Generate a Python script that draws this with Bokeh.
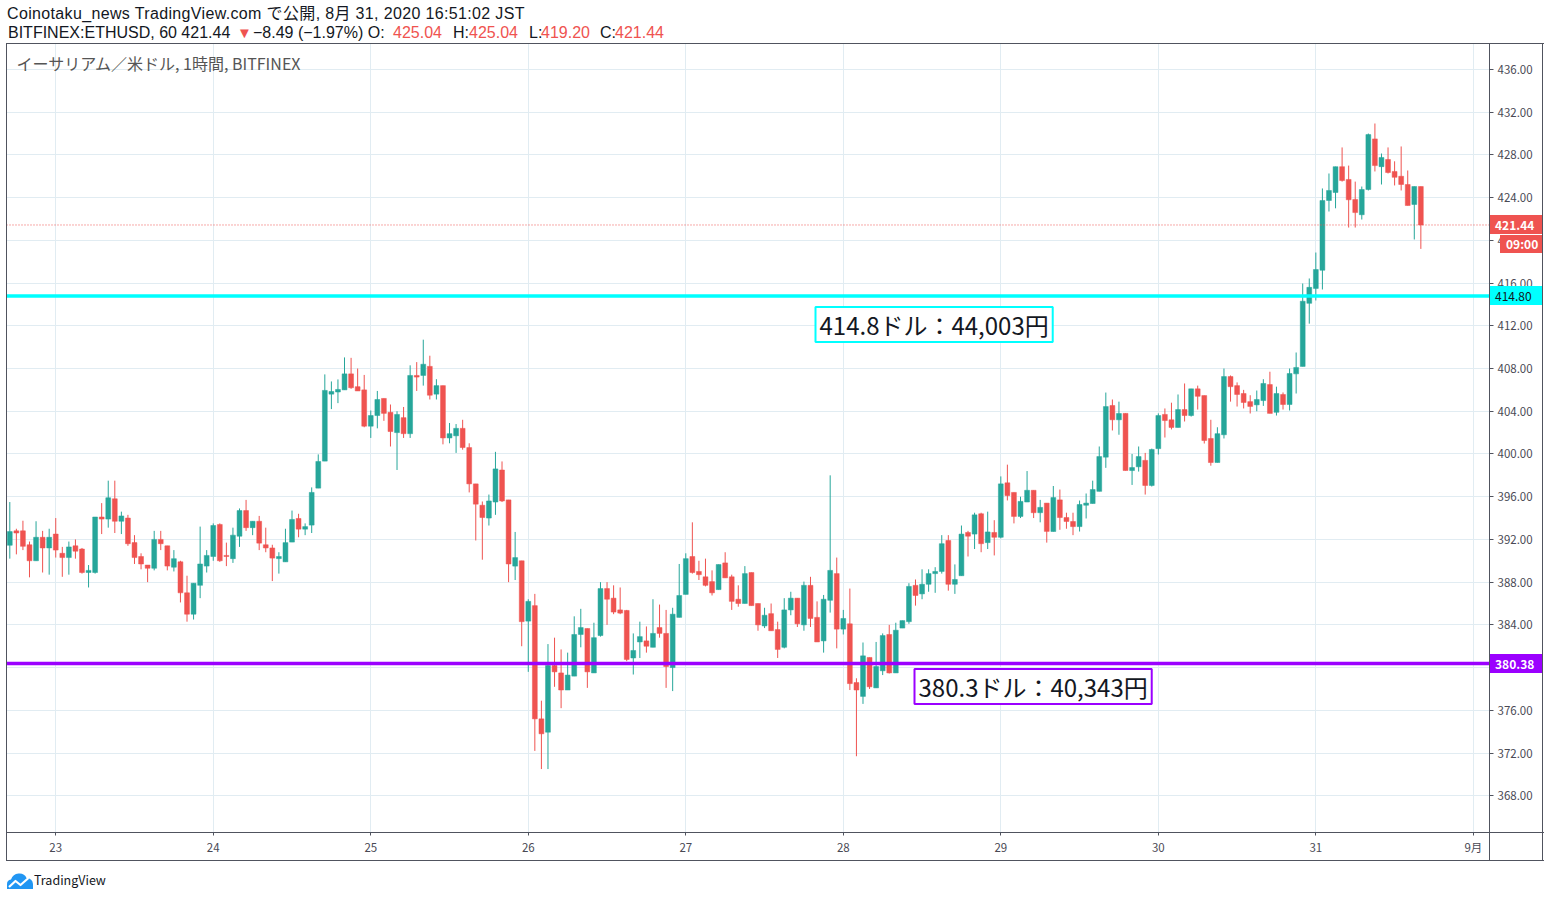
import pandas as pd
from bokeh.plotting import figure
from bokeh.layouts import column
from bokeh.models import (Range1d, FixedTicker, PrintfTickFormatter, Span, Label,
                          ColumnDataSource, Div, InlineStyleSheet)
from bokeh.embed import file_html
from bokeh.resources import INLINE

# ---------------- data ----------------
start_time = "2020-08-22 17:00"
opens = [391.45, 392.8, 392.8, 391.5, 390.0, 392.2, 391.2, 392.5, 390.7, 390.3,
         391.4, 391.1, 388.9, 388.9, 394.1, 393.9, 395.8, 393.7, 394.0, 391.7,
         390.4, 389.6, 389.3, 392.0, 391.4, 389.4, 389.9, 387.0, 385.0, 387.7,
         389.5, 390.4, 393.4, 390.5, 390.2, 392.3, 394.7, 393.1, 393.7, 391.5,
         391.2, 390.2, 389.9, 391.75, 393.96, 392.96, 393.34, 396.8, 399.33, 405.6,
         405.8, 406.0, 407.5, 406.3, 406.0, 402.6, 403.6, 405.2, 403.9, 402.0,
         403.4, 401.9, 407.35, 407.35, 408.2, 405.6, 406.4, 401.5, 401.7, 402.4,
         400.6, 397.2, 395.2, 394.0, 395.5, 398.5, 395.7, 389.5, 390.0, 384.35,
         385.8, 375.2, 373.95, 380.2, 379.5, 377.9, 379.2, 383.1, 383.66, 379.5,
         383.0, 387.4, 386.5, 385.4, 385.35, 380.9, 382.4, 382.5, 381.9, 383.75,
         383.2, 380.0, 384.7, 386.85, 390.4, 389.0, 388.5, 388.05, 387.3, 389.8,
         388.5, 386.4, 386.0, 388.9, 386.0, 383.9, 385.05, 383.56, 381.9, 385.4,
         386.5, 384.0, 387.7, 384.7, 382.5, 386.3, 388.8, 383.6, 384.1, 378.6,
         377.3, 380.95, 378.1, 379.7, 383.1, 379.5, 383.7, 384.3, 387.7, 386.9,
         387.8, 388.8, 389.0, 391.9, 387.8, 388.6, 392.65, 392.5, 394.4, 391.7,
         392.65, 392.2, 397.3, 396.4, 394.15, 395.5, 396.6, 394.5, 395.4, 392.74,
         395.7, 394.05, 393.68, 393.2, 395.2, 395.36, 396.5, 399.7, 404.54, 403.2,
         403.8, 398.45, 398.8, 399.4, 397.05, 400.5, 403.7, 403.2, 402.48, 404.16,
         403.6, 406.1, 405.47, 401.45, 399.2, 401.8, 407.25, 406.4, 405.66, 404.9,
         404.6, 405.0, 406.5, 403.9, 405.57, 404.63, 407.5, 408.2, 414.1, 415.5,
         417.2, 423.73, 424.48, 426.9, 425.7, 423.83, 422.4, 424.76, 429.5, 426.9,
         427.57, 426.45, 426.0, 425.23, 423.36, 425.04]
highs = [395.5, 393.0, 393.75, 391.8, 393.7, 392.8, 393.0, 394.0, 391.3, 391.8,
         392.0, 391.2, 389.6, 394.1, 395.4, 397.5, 397.5, 394.6, 394.3, 392.4,
         390.7, 389.6, 392.8, 392.8, 391.4, 391.0, 390.0, 388.6, 387.9, 393.2,
         391.0, 393.5, 393.5, 391.7, 393.1, 394.9, 395.7, 393.7, 394.2, 393.1,
         391.5, 390.8, 393.0, 394.7, 394.4, 393.5, 396.87, 399.96, 407.45, 406.79,
         406.98, 409.04, 409.0, 408.0, 407.4, 404.07, 405.9, 405.2, 404.63, 404.0,
         404.4, 408.3, 408.6, 410.7, 409.2, 407.0, 406.4, 402.9, 402.8, 403.2,
         401.0, 397.2, 395.55, 396.2, 400.2, 399.3, 395.7, 392.7, 390.0, 386.4,
         386.9, 376.9, 382.2, 382.8, 381.7, 381.4, 384.8, 385.5, 383.66, 384.2,
         388.0, 388.0, 387.7, 387.5, 385.4, 383.2, 384.3, 383.85, 386.4, 385.9,
         385.4, 385.6, 389.7, 390.7, 393.6, 390.0, 390.2, 389.1, 389.65, 390.8,
         388.7, 387.7, 389.5, 388.9, 386.0, 385.6, 386.0, 384.3, 386.5, 387.1,
         386.5, 388.05, 388.5, 386.2, 386.8, 398.0, 390.3, 385.4, 387.4, 379.0,
         382.35, 380.95, 382.4, 383.2, 384.0, 384.2, 384.4, 387.9, 388.25, 389.2,
         389.2, 389.4, 392.4, 392.4, 389.66, 393.3, 392.8, 394.5, 394.5, 394.6,
         393.8, 397.9, 399.0, 396.4, 396.0, 398.4, 396.6, 395.7, 395.4, 397.0,
         396.67, 394.5, 394.5, 395.64, 396.3, 397.5, 400.7, 405.75, 405.1, 404.9,
         403.8, 400.0, 400.7, 400.1, 400.5, 403.8, 404.26, 404.8, 405.57, 406.6,
         406.1, 406.4, 405.47, 403.2, 402.5, 408.0, 407.35, 406.7, 406.0, 405.5,
         405.94, 407.0, 407.7, 406.3, 405.76, 408.0, 409.5, 415.96, 416.43, 418.86,
         424.86, 426.26, 426.9, 428.7, 427.0, 425.5, 425.04, 430.0, 430.94, 428.13,
         428.7, 427.4, 428.79, 426.54, 425.04, 425.04]
lows = [390.2, 390.6, 391.0, 388.45, 390.0, 388.9, 388.7, 390.3, 388.5, 388.7,
        390.2, 388.8, 387.5, 388.8, 392.5, 393.1, 392.6, 392.5, 391.4, 389.7,
        389.2, 388.0, 389.1, 391.0, 389.1, 389.0, 386.1, 384.3, 384.5, 386.5,
        388.9, 390.0, 389.9, 389.5, 389.8, 391.3, 392.8, 392.4, 391.0, 390.8,
        388.1, 388.8, 389.9, 391.75, 392.2, 392.4, 392.6, 396.8, 399.33, 404.2,
        404.76, 406.0, 406.1, 405.9, 402.5, 401.5, 402.4, 403.1, 400.7, 398.5,
        401.5, 401.5, 405.9, 406.4, 405.1, 405.1, 400.9, 401.0, 400.1, 400.4,
        396.4, 391.9, 390.1, 393.3, 394.3, 395.5, 388.0, 388.2, 382.0, 379.6,
        372.2, 370.5, 370.5, 378.2, 376.2, 377.9, 379.2, 381.9, 378.1, 379.5,
        382.9, 384.0, 385.0, 385.0, 380.6, 379.35, 380.9, 381.4, 381.9, 382.8,
        378.1, 377.8, 384.7, 386.85, 388.8, 388.2, 387.6, 386.75, 387.3, 388.4,
        385.4, 385.7, 386.0, 385.8, 383.45, 383.7, 383.45, 380.9, 381.8, 384.9,
        383.8, 383.45, 383.8, 382.4, 381.4, 385.15, 381.8, 383.1, 377.9, 371.7,
        376.6, 378.0, 378.1, 379.3, 379.45, 379.5, 383.7, 384.1, 385.8, 386.4,
        387.1, 387.0, 388.8, 387.2, 386.9, 388.6, 390.4, 391.1, 390.8, 391.1,
        390.5, 392.1, 395.65, 393.5, 394.0, 395.5, 394.0, 393.6, 391.7, 392.74,
        392.9, 393.0, 392.4, 392.74, 393.96, 395.36, 396.5, 398.7, 402.2, 401.8,
        398.45, 397.1, 398.35, 396.2, 396.95, 399.95, 401.54, 402.3, 402.48, 403.04,
        403.5, 404.16, 400.98, 398.9, 399.2, 401.45, 404.9, 404.44, 404.26, 403.79,
        404.0, 404.5, 403.8, 403.6, 404.16, 404.07, 405.66, 408.2, 412.2, 414.37,
        415.4, 422.7, 423.0, 425.5, 421.2, 421.2, 421.95, 424.67, 426.45, 425.23,
        426.26, 425.14, 424.67, 423.26, 420.08, 419.2]
closes = [392.73, 392.6, 391.35, 390.0, 392.2, 391.2, 392.2, 391.0, 390.3, 391.3,
          390.9, 388.9, 389.1, 394.1, 393.9, 395.9, 393.7, 394.2, 391.6, 390.3,
          389.7, 389.3, 392.0, 391.6, 389.5, 390.2, 387.0, 385.0, 387.9, 389.7,
          390.5, 393.3, 390.0, 390.4, 392.4, 394.7, 393.1, 393.7, 391.65, 391.2,
          390.25, 390.4, 391.7, 393.87, 392.96, 393.2, 396.4, 399.3, 405.95, 405.85,
          406.04, 407.5, 406.2, 405.9, 402.6, 403.6, 405.1, 403.8, 402.1, 403.7,
          401.9, 407.35, 407.2, 408.4, 405.5, 406.4, 401.5, 401.9, 402.4, 400.6,
          397.2, 395.3, 394.05, 395.6, 398.6, 395.6, 389.7, 390.3, 384.3, 386.2,
          375.2, 373.8, 380.2, 379.6, 377.9, 379.3, 383.1, 383.75, 379.6, 382.8,
          387.4, 386.4, 385.2, 385.1, 380.76, 381.6, 382.9, 382.0, 383.2, 383.2,
          380.1, 385.0, 386.75, 390.2, 388.9, 388.7, 387.7, 387.0, 389.65, 388.4,
          386.2, 386.0, 388.8, 385.8, 384.0, 384.9, 383.45, 381.7, 385.4, 386.5,
          384.1, 387.7, 384.6, 382.4, 386.4, 389.1, 383.6, 384.6, 378.5, 377.9,
          381.1, 378.2, 380.1, 383.0, 379.5, 383.5, 384.4, 387.6, 386.75, 387.8,
          388.8, 389.0, 391.6, 387.8, 388.25, 392.5, 392.3, 394.3, 391.6, 392.7,
          392.2, 397.2, 396.1, 394.15, 395.56, 396.6, 394.5, 395.0, 392.75, 395.92,
          394.05, 393.68, 393.2, 395.27, 395.4, 396.67, 399.76, 404.44, 403.2, 403.79,
          398.45, 398.73, 399.76, 397.05, 400.42, 403.6, 403.13, 402.48, 404.16, 403.6,
          406.1, 405.4, 401.26, 399.2, 401.9, 407.25, 406.3, 405.57, 404.82, 404.45,
          405.1, 406.6, 403.8, 405.66, 404.63, 407.53, 408.1, 414.3, 415.6, 417.27,
          423.73, 424.67, 426.9, 425.6, 423.8, 422.6, 424.76, 429.9, 427.0, 427.76,
          426.35, 425.9, 425.23, 423.26, 425.04, 421.44]

day_labels = ["23", "24", "25", "26", "27", "28", "29", "30", "31", "9月"]
price_ticks = [368, 372, 376, 380, 384, 388, 392, 396, 400, 404, 408, 412, 416, 420, 424, 428, 432, 436]
level_upper = 414.80
level_lower = 380.38
last_price = 421.44
countdown = "09:00"
note_upper = "414.8ドル：44,003円"
note_lower = "380.3ドル：40,343円"
header_1 = "Coinotaku_news TradingView.com で公開, 8月 31, 2020 16:51:02 JST"
symbol = "BITFINEX:ETHUSD, 60"
change = "−8.49 (−1.97%)"
chart_title = "イーサリアム／米ドル, 1時間, BITFINEX"

# ---------------- geometry / style ----------------
JP = "Noto Sans CJK JP"
HEAD_FONT = "'Liberation Sans', 'Noto Sans CJK JP'"
UP, DOWN = "#26a69a", "#ef5350"
CYAN, PURPLE = "#00ffff", "#9b00ff"
FRAME = "#50535e"
TXT = "#131722"
W = 1544
HEAD_H = 43
FIG_H = 818
FX0, FX1, FY0, FY1 = 6.0, 1489.0, 43.0, 832.0   # page pixels of the plot frame
X0, X1 = -0.503, 225.46
Y0, Y1 = 364.56, 438.43


def px(xp):
    return X0 + (xp - FX0) * (X1 - X0) / (FX1 - FX0)


def py(yp):
    return Y1 - (yp - FY0) * (Y1 - Y0) / (FY1 - FY0)


def page_y(price):
    return FY0 + (Y1 - price) * (FY1 - FY0) / (Y1 - Y0)


times = pd.date_range(start_time, periods=len(closes), freq="h")
idx = list(range(len(closes)))
t0 = times[0]
midnights = pd.date_range(t0.normalize() + pd.Timedelta(days=1), periods=len(day_labels), freq="D")
day_pos = [int((m - t0) / pd.Timedelta(hours=1)) for m in midnights]

colors = [UP if c >= o else DOWN for o, c in zip(opens, closes)]
src = ColumnDataSource(dict(
    x=idx, o=opens, h=highs, l=lows, c=closes,
    top=[max(o, c) for o, c in zip(opens, closes)],
    bot=[min(o, c) for o, c in zip(opens, closes)],
    color=colors))

p = figure(width=W, height=FIG_H, x_range=Range1d(X0, X1), y_range=Range1d(Y0, Y1),
           output_backend="svg", toolbar_location=None, y_axis_location="right",
           min_border=0, min_border_left=int(FX0), min_border_right=int(W - FX1),
           min_border_top=0, min_border_bottom=int(861 - FY1),
           background_fill_color="white", border_fill_color="white")
p.outline_line_color = FRAME
p.outline_line_width = 1

p.xgrid.ticker = FixedTicker(ticks=day_pos)
p.ygrid.ticker = FixedTicker(ticks=price_ticks)
p.xgrid.grid_line_color = "#e1ecf2"
p.ygrid.grid_line_color = "#e1ecf2"

xa = p.xaxis[0]
xa.ticker = FixedTicker(ticks=day_pos)
xa.major_label_overrides = {pos: lab for pos, lab in zip(day_pos, day_labels)}
xa.axis_line_color = FRAME
xa.major_tick_line_color = FRAME
xa.major_tick_in = 0
xa.major_tick_out = 3
xa.minor_tick_line_color = None
xa.major_label_text_font = JP
xa.major_label_text_font_size = "11.5px"
xa.major_label_text_color = "#4a4a55"
xa.major_label_standoff = 3

ya = p.yaxis[0]
ya.ticker = FixedTicker(ticks=price_ticks)
ya.formatter = PrintfTickFormatter(format="%.2f")
ya.axis_line_color = FRAME
ya.major_tick_line_color = FRAME
ya.major_tick_in = 0
ya.major_tick_out = 4
ya.minor_tick_line_color = None
ya.major_label_text_font = JP
ya.major_label_text_font_size = "11.5px"
ya.major_label_text_color = "#4a4a55"
ya.major_label_standoff = 4

# candles
p.segment(x0="x", x1="x", y0="l", y1="h", color="color", line_width=1, source=src)
p.vbar(x="x", width=0.74, top="top", bottom="bot", fill_color="color", line_color="color",
       line_width=0.5, source=src)

# horizontal levels
p.add_layout(Span(location=last_price, dimension="width", line_color=DOWN, line_width=1,
                  line_dash="1 2"))
p.add_layout(Span(location=level_upper, dimension="width", line_color=CYAN, line_width=3.5))
p.add_layout(Span(location=level_lower, dimension="width", line_color=PURPLE, line_width=3.5))


def label(xp, yp, text, size, color, **kw):
    p.add_layout(Label(x=px(xp), y=py(yp), text=text, text_font=JP, text_font_size=f"{size}px",
                       text_color=color, text_align="left", text_baseline="middle",
                       level="overlay", **kw))


label(16, 62, chart_title, 16, "#555555")
label(815, 324, note_upper, 24, TXT, background_fill_color="white",
      border_line_color=CYAN, border_line_width=2, padding=dict(x=4, y=0))
label(914, 686, note_lower, 24, TXT, background_fill_color="white",
      border_line_color=PURPLE, border_line_width=2, padding=dict(x=4, y=0))

# ---------------- header + overlays (HTML) ----------------


def text_at(left, top, text, size, color, extra=""):
    return (f'<div style="position:absolute;left:{left}px;top:{top}px;white-space:nowrap;'
            f'font-family:{HEAD_FONT};font-size:{size}px;line-height:19px;color:{color};{extra}">'
            f'{text}</div>')


def box(left, top, width, height, bg, color, text, bold=True):
    return (f'<div style="position:absolute;left:{left}px;top:{top:.0f}px;width:{width}px;'
            f'height:{height}px;background:{bg};color:{color};font-size:12px;'
            f'font-weight:{"bold" if bold else "normal"};line-height:{height}px;'
            f'padding-left:6px;box-sizing:border-box;z-index:10;">{text}</div>')


def line(left, top, width, height):
    return (f'<div style="position:absolute;left:{left}px;top:{top}px;width:{width}px;'
            f'height:{height}px;background:{FRAME};z-index:10;"></div>')


H2 = 16
L1, L2 = 4, 23
header_parts = [
    text_at(7, L1, header_1, H2, TXT, "letter-spacing:0.35px;"),
    text_at(8, L2, f"{symbol} {last_price:.2f}", H2, TXT),
    text_at(237, L2, "▼", 15, DOWN),
    text_at(253, L2, f"{change} O:", H2, TXT),
    text_at(393, L2, f"{opens[-1]:.2f}", H2, DOWN),
    text_at(453, L2, "H:", H2, TXT),
    text_at(469, L2, f"{highs[-1]:.2f}", H2, DOWN),
    text_at(529, L2, "L:", H2, TXT),
    text_at(541, L2, f"{lows[-1]:.2f}", H2, DOWN),
    text_at(600, L2, "C:", H2, TXT),
    text_at(615, L2, f"{closes[-1]:.2f}", H2, DOWN),
]

overlay = "".join([
    box(1489, page_y(last_price) - 9.5, 54, 19, DOWN, "white", f"{last_price:.2f}"),
    box(1500, page_y(last_price) + 11, 43, 18, DOWN, "white", countdown),
    box(1489, page_y(level_upper) - 9.5, 54, 19, CYAN, TXT, f"{level_upper:.2f}", bold=False),
    box(1489, page_y(level_lower) - 9.5, 54, 19, PURPLE, "white", f"{level_lower:.2f}"),
    line(6, 43, 1538, 1), line(6, 860, 1538, 1), line(6, 43, 1, 818), line(1542, 43, 1, 818),
    line(1489, 43, 1, 818), line(6, 832, 1538, 1),
    ('<svg style="position:absolute;left:6px;top:871px;z-index:10" width="28" height="19" '
     'viewBox="0 0 28 19"><path d="M1 18 L1 13 Q1 9 5 8.5 Q7 3 12.5 2.5 Q18.5 2 20.5 7 '
     'Q26.5 7.5 27 13 L27 18 Z" fill="#2196f3"/><polyline points="3,16 9.5,10 14.5,14 22.5,7" '
     'fill="none" stroke="white" stroke-width="2.2" stroke-linejoin="round"/></svg>'),
    (f'<div style="position:absolute;left:34px;top:871px;font-size:12.5px;line-height:18px;'
     f'color:{TXT};z-index:10;">TradingView</div>'),
])

header_html = (
    f'<div style="position:relative;width:{W}px;height:{HEAD_H}px;font-family:\'{JP}\';'
    f'color:{TXT};">' + "".join(header_parts) + overlay + '</div>'
)
css = InlineStyleSheet(css=":host, div { overflow: visible !important; }")
head = Div(text=header_html, width=W, height=HEAD_H, margin=0,
           styles={"overflow": "visible", "z-index": "10"}, stylesheets=[css])
foot = Div(text="", width=W, height=898 - HEAD_H - FIG_H - 1, margin=0)

layout = column(head, p, foot, spacing=0, margin=0)
open("out.html", "w").write(file_html(layout, INLINE))
